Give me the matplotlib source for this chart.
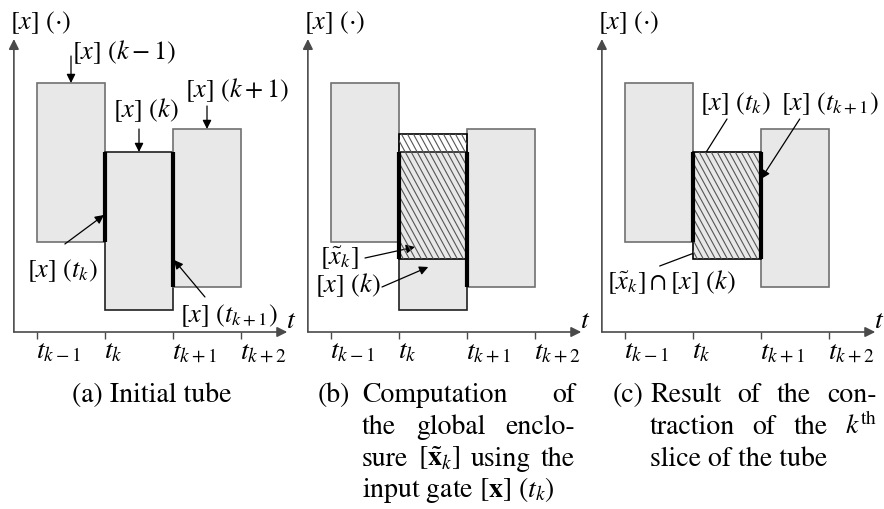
import matplotlib.pyplot as plt
import numpy as np
from matplotlib.patches import Rectangle
from matplotlib.collections import LineCollection

plt.rcParams['font.family'] = 'STIXGeneral'
plt.rcParams['mathtext.fontset'] = 'stix'

# time ticks (slice boundaries) and their labels
t_pos = [0, 1, 2, 3]
t_labels = [r'$t_{k-1}$', r'$t_k$', r'$t_{k+1}$', r'$t_{k+2}$']

# slices k-1, k, k+1 of the tube: lower / upper bounds
slice_lo = [90, 22, 45]
slice_hi = [249, 180, 203]
# global enclosure [x~_k] computed from the input gate
encl_lo, encl_hi = 73, 198

W, H = 884, 510
FILL = '#e8e8e8'
EDGE = '#707070'
AXC = '#4a4a4a'
FS = 19      # math labels
FS_CAP = 20  # captions and ticks

fig = plt.figure(figsize=(W / 100, H / 100), dpi=100)


def make_axes(left_px):
    ax = fig.add_axes([left_px / W, 0, 295 / W, 1])
    ax.set_xlim(-37 / 68, 258 / 68)
    ax.set_ylim(333 - 510, 333)
    ax.axis('off')
    return ax


def arrow(ax, start, end, color='k', lw=0.9, ms=13):
    ax.annotate('', xy=end, xytext=start,
                arrowprops=dict(arrowstyle='-|>', color=color, lw=lw,
                                mutation_scale=ms, shrinkA=0, shrinkB=0))


def frame(ax):
    arrow(ax, (-0.34, 0), (-0.34, 293), color=AXC, lw=1.2, ms=15)
    arrow(ax, (-0.34, 0), (3.68, 0), color=AXC, lw=1.2, ms=15)
    ax.vlines(t_pos, -7, 0, color=AXC, lw=1.0)
    for x, lab in zip(t_pos, t_labels):
        ax.text(x - 0.01, -25, lab, ha='left', va='baseline', fontsize=FS_CAP)
    ax.text(3.66, 5, r'$t$', ha='left', va='baseline', fontsize=FS_CAP)
    ax.text(-0.40, 304, r'$[x]\ (\cdot)$', ha='left', va='baseline', fontsize=FS)


def box(ax, i, lo, hi, ec=EDGE, fc=FILL, z=2):
    r = Rectangle((i, lo), 1, hi - lo, fc=fc, ec=ec, lw=1.2, zorder=z)
    ax.add_patch(r)
    return r


def hatch(ax, patch, lo, hi, i):
    dx = (hi - lo) / 125.0
    starts = np.arange(i - dx - 0.2, i + 1.2, 6.0 / 68)
    segs = [[(s, hi), (s + dx, lo)] for s in starts]
    lc = LineCollection(segs, colors='#555555', lw=0.8, zorder=patch.get_zorder() + 0.5)
    ax.add_collection(lc)
    lc.set_clip_path(patch)


def overlap(a, b):
    return max(a[0], b[0]), min(a[1], b[1])


def thick(ax, x, lo, hi):
    ax.vlines(x, lo, hi, color='k', lw=3, zorder=6)


# ---------- (a) initial tube ----------
ax = make_axes(0)
frame(ax)
for i in range(3):
    box(ax, i, slice_lo[i], slice_hi[i], ec='#202020' if i == 1 else EDGE)
thick(ax, 1, *overlap((slice_lo[0], slice_hi[0]), (slice_lo[1], slice_hi[1])))
thick(ax, 2, *overlap((slice_lo[1], slice_hi[1]), (slice_lo[2], slice_hi[2])))
ax.text(0.51, 274, r'$[x]\ (k-1)$', ha='left', va='baseline', fontsize=FS)
arrow(ax, (0.5, 276), (0.5, slice_hi[0]))
ax.text(1.12, 216, r'$[x]\ (k)$', ha='left', va='baseline', fontsize=FS)
arrow(ax, (1.5, 203), (1.5, slice_hi[1]))
ax.text(2.18, 236, r'$[x]\ (k+1)$', ha='left', va='baseline', fontsize=FS)
arrow(ax, (2.5, 226), (2.5, slice_hi[2]))
ax.text(-0.15, 56, r'$[x]\ (t_k)$', ha='left', va='baseline', fontsize=FS)
arrow(ax, (0.41, 88), (0.985, 117))
ax.text(2.1, 11, r'$[x]\ (t_{k+1})$', ha='left', va='baseline', fontsize=FS)
arrow(ax, (2.47, 35), (2.015, 72))

# ---------- (b) global enclosure ----------
ax = make_axes(294)
frame(ax)
box(ax, 0, slice_lo[0], slice_hi[0])
box(ax, 2, slice_lo[2], slice_hi[2])
box(ax, 1, slice_lo[1], slice_hi[1], ec='#202020')
hp = box(ax, 1, encl_lo, encl_hi, ec='k', fc='none', z=4)
hatch(ax, hp, encl_lo, encl_hi, 1)
thick(ax, 1, encl_lo, slice_hi[1])
thick(ax, 2, *overlap((slice_lo[1], slice_hi[1]), (slice_lo[2], slice_hi[2])))
ax.text(-0.16, 68, r'$[\tilde{x}_k]$', ha='left', va='baseline', fontsize=FS)
arrow(ax, (0.5, 74), (1.235, 85))
ax.text(-0.235, 41, r'$[x]\ (k)$', ha='left', va='baseline', fontsize=FS)
arrow(ax, (0.75, 45), (1.43, 65))

# ---------- (c) contracted slice ----------
ax = make_axes(588)
frame(ax)
box(ax, 0, slice_lo[0], slice_hi[0])
box(ax, 2, slice_lo[2], slice_hi[2])
c_lo, c_hi = overlap((slice_lo[1], slice_hi[1]), (encl_lo, encl_hi))
cp = box(ax, 1, c_lo, c_hi, ec='k', z=4)
hatch(ax, cp, c_lo, c_hi, 1)
thick(ax, 1, *overlap((slice_lo[0], slice_hi[0]), (c_lo, c_hi)))
thick(ax, 2, *overlap((slice_lo[2], slice_hi[2]), (c_lo, c_hi)))
ax.text(1.1, 223, r'$[x]\ (t_k)$', ha='left', va='baseline', fontsize=FS)
arrow(ax, (1.5, 213), (1.01, 160))
ax.text(2.3, 223, r'$[x]\ (t_{k+1})$', ha='left', va='baseline', fontsize=FS)
arrow(ax, (2.57, 213), (2.0, 153))
ax.text(-0.27, 44, r'$[\tilde{x}_k] \cap [x]\ (k)$', ha='left', va='baseline', fontsize=FS)
arrow(ax, (0.51, 66), (1.25, 85))

# ---------- captions ----------
renderer = fig.canvas.get_renderer()


def ftext(x, y, s, **kw):
    return fig.text(x / W, 1 - y / H, s, fontsize=FS_CAP, va='baseline', **kw)


def justify(words, x0, x1, y):
    objs = [ftext(x0, y, w) for w in words]
    widths = [o.get_window_extent(renderer).width for o in objs]
    gap = (x1 - x0 - sum(widths)) / (len(words) - 1)
    x = x0
    for o, w in zip(objs, widths):
        o.set_x(x / W)
        x += w + gap


base = [402, 434, 466, 497]
ftext(151.5, base[0], '(a) Initial tube', ha='center')

ftext(318, base[0], '(b)')
justify(['Computation', 'of'], 362, 575, base[0])
justify(['the', 'global', 'enclo-'], 362, 575, base[1])
justify(['sure', r'$[\tilde{\mathbf{x}}_k]$', 'using', 'the'], 362, 575, base[2])
ftext(362, base[3], r'input gate $[\mathbf{x}]\ (t_k)$')

ftext(613, base[0], '(c)')
justify(['Result', 'of', 'the', 'con-'], 650, 877, base[0])
justify(['traction', 'of', 'the', r'$k^{\mathrm{th}}$'], 650, 877, base[1])
ftext(650, base[2], 'slice of the tube')

fig.savefig('out.png', dpi=100)
